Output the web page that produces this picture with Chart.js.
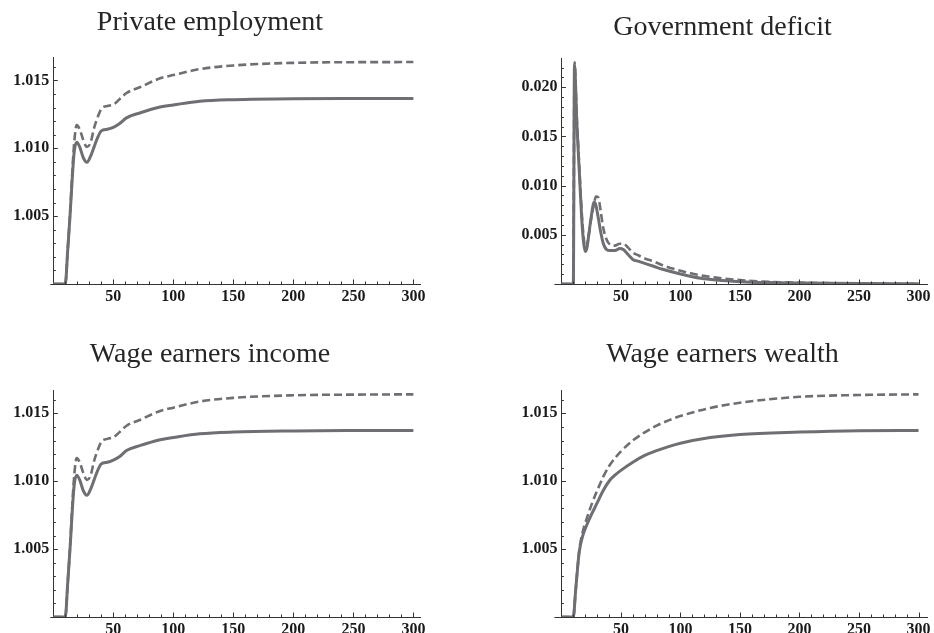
<!DOCTYPE html>
<html>
<head>
<meta charset="utf-8">
<script src="https://cdn.jsdelivr.net/npm/chart.js@4.4.1/dist/chart.umd.min.js"></script>
<style>
  html, body { margin: 0; padding: 0; background: #fff; }
  #wrap { position: relative; width: 934px; height: 633px; overflow: hidden; background: #fff; }
  #wrap canvas { position: absolute; }
</style>
</head>
<body>
<div id="wrap">
  <canvas id="pEmp" width="432" height="316" style="left:0px;top:0px"></canvas>
  <canvas id="pDef" width="416" height="316" style="left:518px;top:0px"></canvas>
  <canvas id="pInc" width="432" height="317" style="left:0px;top:316px"></canvas>
  <canvas id="pWea" width="416" height="317" style="left:518px;top:316px"></canvas>
</div>
<script>
// ---- Private employment ----
const empT      = [0, 10, 12, 14, 16, 17.5, 19.5, 22, 25, 28, 31, 34, 37, 40, 45, 50, 55, 61, 72, 89, 100, 122, 150, 200, 250, 300];
const empBase   = [1.0, 1.0, 1.0025, 1.0051, 1.0081, 1.0098, 1.01045, 1.0101, 1.0093, 1.00897, 1.0094, 1.0101, 1.0108, 1.01128, 1.0114, 1.01154, 1.0118, 1.01224, 1.0126, 1.01304, 1.01319, 1.01346, 1.01358, 1.01365, 1.01366, 1.01366];
const empAlt    = [1.0, 1.0, 1.0025, 1.0052, 1.0085, 1.0105, 1.0117, 1.0114, 1.0106, 1.0101, 1.0104, 1.0115, 1.0123, 1.0129, 1.01312, 1.01321, 1.0136, 1.01407, 1.01449, 1.01515, 1.01539, 1.01583, 1.0161, 1.01629, 1.01634, 1.01635];

// ---- Government deficit ----
const defT      = [0, 10, 11, 13, 15, 17, 18.5, 20, 21.5, 23, 25, 27.5, 29, 31, 33, 35, 38, 41, 45, 49, 52, 56, 60, 65, 70, 77.5, 85, 100, 117, 130, 150, 175, 200, 250, 300];
const defBase   = [0, 0, 0.0222, 0.0163, 0.0115, 0.0068, 0.0044, 0.0033, 0.0037, 0.0050, 0.0068, 0.0083, 0.0080, 0.0067, 0.0053, 0.0042, 0.0035, 0.0034, 0.0034, 0.0036, 0.0035, 0.0030, 0.0025, 0.0023, 0.0021, 0.0018, 0.0015, 0.00102, 0.00058, 0.0004, 0.00024, 0.00014, 0.0001, 0.00004, 0.00002];
const defAlt    = [0, 0, 0.02255, 0.0167, 0.0120, 0.0074, 0.0050, 0.0037, 0.0039, 0.0050, 0.0066, 0.0082, 0.0089, 0.0088, 0.0074, 0.0058, 0.0045, 0.0040, 0.0039, 0.0041, 0.0041, 0.0037, 0.0032, 0.0029, 0.0026, 0.0023, 0.0019, 0.00135, 0.00088, 0.00065, 0.0004, 0.00022, 0.00014, 0.00005, 0.00002];

// ---- Wage earners income ----
const incT      = [0, 10, 12, 14, 16, 17.5, 19.5, 22, 25, 28, 31, 34, 37, 40, 45, 50, 55, 61, 72, 89, 100, 122, 150, 200, 250, 300];
const incBase   = [1.0, 1.0, 1.0025, 1.0051, 1.0081, 1.0098, 1.01045, 1.0101, 1.0093, 1.00897, 1.0094, 1.0101, 1.0108, 1.01128, 1.0114, 1.01156, 1.0118, 1.01226, 1.01262, 1.01306, 1.01322, 1.01349, 1.01362, 1.0137, 1.01373, 1.01374];
const incAlt    = [1.0, 1.0, 1.0025, 1.0052, 1.0085, 1.0105, 1.0117, 1.0114, 1.0106, 1.0101, 1.0104, 1.0115, 1.0123, 1.0129, 1.01312, 1.01323, 1.0136, 1.01409, 1.01451, 1.01518, 1.01542, 1.01587, 1.01614, 1.01633, 1.01638, 1.0164];

// ---- Wage earners wealth ----
const weaT      = [0, 10, 12, 15, 18, 20, 25, 30, 35, 40, 45, 50, 60, 70, 80, 90, 100, 125, 150, 200, 250, 300];
const weaBase   = [1.0, 1.0, 1.002, 1.0048, 1.006, 1.0065, 1.0075, 1.0084, 1.0093, 1.0100, 1.01045, 1.0108, 1.0114, 1.0119, 1.01225, 1.01255, 1.0128, 1.01322, 1.01345, 1.01362, 1.01372, 1.01374];
const weaAlt    = [1.0, 1.0, 1.002, 1.0049, 1.0063, 1.0069, 1.0082, 1.0093, 1.0103, 1.0111, 1.0117, 1.0122, 1.0130, 1.0136, 1.0141, 1.01448, 1.0148, 1.0154, 1.01578, 1.01622, 1.01635, 1.0164];

// Axis tick settings
const xTickStep = 50, xMinorStep = 10;
const yLevelStep = 0.005, yLevelMinor = 0.001, yDefStep = 0.005, yDefMinor = 0.001;

const LINE = '#6e6e73';
const AXIS = '#333333';
const SERIF = "'Liberation Serif', 'Times New Roman', serif";

const toPts = (t, v) => t.map((x, i) => ({ x: x, y: v[i] }));

// Short tick marks pointing into the plot, plus a small stub of the
// horizontal axis to the left of the vertical one
const inwardTicks = {
  id: 'inwardTicks',
  afterDatasetsDraw(chart, args, o) {
    const { ctx, chartArea: a, scales: { x, y } } = chart;
    ctx.save();
    ctx.strokeStyle = AXIS;
    ctx.lineWidth = 1;
    ctx.beginPath();
    const yb = Math.round(a.bottom) + 0.5;
    ctx.moveTo(a.left - o.stub, yb);
    ctx.lineTo(a.left, yb);
    for (let i = 1; ; i++) {
      const v = x.min + i * o.xMinor;
      if (v > x.max + 1e-9) break;
      const px = Math.round(x.getPixelForValue(v)) + 0.5;
      const len = (Math.abs(v / o.xMajor - Math.round(v / o.xMajor)) < 1e-6) ? 4.5 : 2.5;
      ctx.moveTo(px, a.bottom);
      ctx.lineTo(px, a.bottom - len);
    }
    for (let i = 1; ; i++) {
      const v = y.min + i * o.yMinor;
      if (v > y.max + 1e-12) break;
      const py = Math.round(y.getPixelForValue(v)) + 0.5;
      const len = (i % o.yEvery === 0) ? 4.5 : 2.5;
      ctx.moveTo(a.left, py);
      ctx.lineTo(a.left + len, py);
    }
    ctx.stroke();
    ctx.restore();
  }
};

function panel(id, p) {
  new Chart(document.getElementById(id), {
    type: 'line',
    data: {
      datasets: [
        {
          data: toPts(p.t, p.alt),
          borderColor: LINE, borderWidth: 2.6, borderDash: [8, 4],
          pointRadius: 0, cubicInterpolationMode: 'monotone', fill: false
        },
        {
          data: toPts(p.t, p.base),
          borderColor: LINE, borderWidth: 3,
          pointRadius: 0, cubicInterpolationMode: 'monotone', fill: false
        }
      ]
    },
    options: {
      responsive: false,
      devicePixelRatio: 1,
      animation: false,
      events: [],
      layout: { padding: { left: 0, right: p.padRight, top: 0, bottom: 0 } },
      plugins: {
        legend: { display: false },
        tooltip: { enabled: false },
        title: {
          display: true,
          text: p.title,
          color: '#262626',
          font: { family: SERIF, size: 28, weight: 'normal' },
          padding: { top: p.titleTop, bottom: p.titleBottom }
        },
        inwardTicks: { xMinor: xMinorStep, xMajor: xTickStep, yMinor: p.yMinor, yEvery: Math.round(p.yStep / p.yMinor), stub: p.stub }
      },
      scales: {
        x: {
          type: 'linear',
          min: 0, max: p.xMax,
          grid: { display: true, drawOnChartArea: false, drawTicks: false },
          border: { display: true, color: AXIS, width: 1 },
          ticks: {
            stepSize: xTickStep, includeBounds: false, maxRotation: 0, autoSkip: false,
            padding: 3, color: '#1a1a1a',
            font: { family: SERIF, size: 16, weight: 'bold' },
            callback: v => (v === 0 ? '' : String(v))
          },
          afterFit: s => { s.height = p.xAxisH; }
        },
        y: {
          type: 'linear',
          min: p.yMin, max: p.yMax,
          grid: { display: true, drawOnChartArea: false, drawTicks: false },
          border: { display: true, color: AXIS, width: 1 },
          ticks: {
            stepSize: p.yStep, includeBounds: false, autoSkip: false,
            padding: 4, color: '#1a1a1a',
            font: { family: SERIF, size: 16, weight: 'bold' },
            callback: v => (Math.abs(v - p.yMin) < 1e-9 ? '' : Number(v).toFixed(3))
          },
          afterFit: s => { s.width = p.yAxisW; }
        }
      }
    },
    plugins: [inwardTicks]
  });
}

panel('pEmp', {
  title: 'Private employment', t: empT, base: empBase, alt: empAlt,
  yMin: 1.0, yMax: 1.0167, yStep: yLevelStep, yMinor: yLevelMinor,
  xMax: 305.5, yAxisW: 53.3, padRight: 12, xAxisH: 32, stub: 3,
  titleTop: 5.5, titleBottom: 18.2
});
panel('pDef', {
  title: 'Government deficit', t: defT, base: defBase, alt: defAlt,
  yMin: 0, yMax: 0.02295, yStep: yDefStep, yMinor: yDefMinor,
  xMax: 307.1, yAxisW: 43.4, padRight: 7, xAxisH: 32, stub: 7,
  titleTop: 10.5, titleBottom: 14.2
});
panel('pInc', {
  title: 'Wage earners income', t: incT, base: incBase, alt: incAlt,
  yMin: 1.0, yMax: 1.01672, yStep: yLevelStep, yMinor: yLevelMinor,
  xMax: 305.5, yAxisW: 53.3, padRight: 12, xAxisH: 16, stub: 3,
  titleTop: 22, titleBottom: 18.4
});
panel('pWea', {
  title: 'Wage earners wealth', t: weaT, base: weaBase, alt: weaAlt,
  yMin: 1.0, yMax: 1.01672, yStep: yLevelStep, yMinor: yLevelMinor,
  xMax: 307.1, yAxisW: 43.4, padRight: 7, xAxisH: 16, stub: 7,
  titleTop: 22, titleBottom: 18.4
});
</script>
</body>
</html>
